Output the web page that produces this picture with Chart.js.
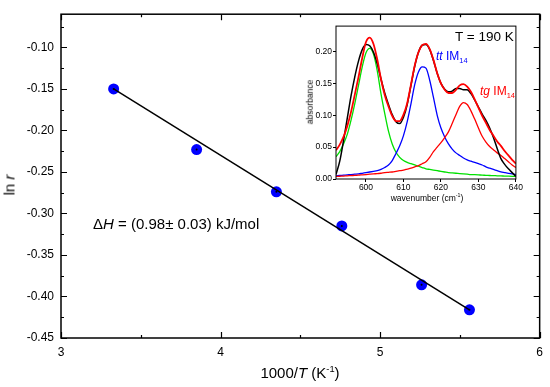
<!DOCTYPE html>
<html>
<head>
<meta charset="utf-8">
<script src="https://cdn.jsdelivr.net/npm/chart.js@4.4.1/dist/chart.umd.min.js"></script>
<style>
  body { margin: 0; background: #fff; }
  #wrap { position: relative; width: 550px; height: 387px; font-family: "Liberation Sans", Arial, sans-serif; color: #000; }
  canvas { position: absolute; }
  #inset { left: 298px; top: 20px; }
  .lbl { position: absolute; white-space: nowrap; line-height: 1; }
  .mid { transform: translate(-50%, -50%); }
  sup, sub { font-size: 62%; line-height: 0; }
</style>
</head>
<body>
<div id="wrap">
  <canvas id="main" width="550" height="387"></canvas>
  <canvas id="inset" width="226" height="188"></canvas>

  <div class="lbl mid" style="left:9px;top:185px;font-size:15px;transform:translate(-50%,-50%) rotate(-90deg)">ln <i>r</i></div>
  <div class="lbl mid" style="left:300px;top:372px;font-size:15px">1000/<i>T</i> (K<sup>-1</sup>)</div>
  <div class="lbl" style="left:93px;top:216px;font-size:15px">&Delta;<i>H</i> = (0.98&plusmn; 0.03) kJ/mol</div>

  <div class="lbl" style="left:455px;top:30px;font-size:13.5px">T = 190 K</div>
  <div class="lbl" style="left:436px;top:50px;font-size:12px;color:#0000ff"><i>tt</i> IM<sub>14</sub></div>
  <div class="lbl" style="left:480px;top:85px;font-size:12px;color:#ff0000"><i>tg</i> IM<sub>14</sub></div>
  <div class="lbl mid" style="left:310px;top:102px;font-size:8.5px;transform:translate(-50%,-50%) rotate(-90deg)">absorbance</div>
  <div class="lbl mid" style="left:427px;top:198px;font-size:8.5px">wavenumber (cm<sup>-1</sup>)</div>
</div>

<script>
// main plot: ln r vs 1000/T
const invT = [3.33, 3.85, 4.35, 4.76, 5.26, 5.56];
const lnR = [-0.150, -0.223, -0.274, -0.315, -0.386, -0.416];
const fitX = [3.33, 5.56];
const fitY = [-0.150, -0.416];
const xTicks = [3, 4, 5, 6];
const xMinor = [3.5, 4.5, 5.5];
const yTicks = [-0.45, -0.40, -0.35, -0.30, -0.25, -0.20, -0.15, -0.10];
const yMinor = [-0.425, -0.375, -0.325, -0.275, -0.225, -0.175, -0.125, -0.075];

// inset: spectrum at 190 K
const wavenumber = [592,593,594,595,596,597,598,599,600,601,602,603,604,605,606,607,608,609,610,611,612,613,614,615,616,617,618,619,620,621,622,623,624,625,626,627,628,629,630,631,632,633,634,635,636,637,638,639,640];
const absMeasured = [0.007,0.028,0.060,0.095,0.130,0.160,0.185,0.203,0.211,0.209,0.199,0.181,0.157,0.135,0.117,0.101,0.090,0.087,0.097,0.117,0.147,0.177,0.199,0.210,0.211,0.203,0.186,0.166,0.150,0.141,0.137,0.138,0.142,0.142,0.140,0.140,0.134,0.124,0.113,0.102,0.092,0.080,0.065,0.048,0.032,0.023,0.016,0.010,0.004];
const absFit = [0.045,0.054,0.066,0.083,0.105,0.132,0.160,0.190,0.215,0.222,0.212,0.188,0.157,0.132,0.114,0.099,0.091,0.091,0.101,0.119,0.148,0.178,0.199,0.210,0.212,0.204,0.187,0.166,0.150,0.140,0.135,0.135,0.140,0.147,0.149,0.145,0.137,0.125,0.112,0.099,0.088,0.077,0.068,0.059,0.052,0.044,0.037,0.030,0.024];
const absPeak601 = [0.035,0.043,0.055,0.070,0.092,0.118,0.147,0.176,0.198,0.205,0.196,0.170,0.134,0.103,0.075,0.055,0.042,0.034,0.029,0.026,0.024,0.022,0.020,0.018,0.016,0.015,0.014,0.013,0.012,0.011,0.010,0.0095,0.009,0.0085,0.008,0.0075,0.007,0.0068,0.0065,0.006,0.0058,0.0055,0.0053,0.005,0.0048,0.0046,0.0044,0.0042,0.004];
const absTt = [0.005,0.0055,0.006,0.0065,0.007,0.0075,0.008,0.009,0.010,0.011,0.012,0.013,0.015,0.018,0.022,0.029,0.040,0.052,0.068,0.090,0.118,0.148,0.168,0.176,0.174,0.155,0.128,0.100,0.080,0.066,0.055,0.047,0.041,0.037,0.033,0.030,0.028,0.026,0.024,0.022,0.019,0.017,0.015,0.013,0.011,0.010,0.009,0.008,0.007];
const absTg = [0.004,0.0043,0.0046,0.005,0.0053,0.0057,0.006,0.0065,0.007,0.0075,0.008,0.0085,0.009,0.010,0.0105,0.011,0.012,0.013,0.014,0.0155,0.017,0.019,0.021,0.024,0.027,0.034,0.043,0.050,0.057,0.065,0.074,0.087,0.101,0.114,0.120,0.117,0.107,0.094,0.080,0.067,0.058,0.051,0.046,0.041,0.037,0.032,0.027,0.022,0.018];
const insetXTicks = [600, 610, 620, 630, 640];
const insetYTicks = [0, 0.05, 0.10, 0.15, 0.20];

const FONT = "'Liberation Sans', Arial, sans-serif";
const pts = (xs, ys) => xs.map((x, i) => ({x: x, y: ys[i]}));

// box around the plot area, plus inward ticks
const frameTicks = {
  id: 'frameTicks',
  afterDraw(chart, args, opts) {
    const {ctx, chartArea: a, scales: {x, y}} = chart;
    ctx.save();
    ctx.strokeStyle = '#000';
    ctx.lineWidth = opts.width || 1.5;
    ctx.strokeRect(a.left, a.top, a.right - a.left, a.bottom - a.top);
    ctx.lineWidth = 1.2;
    ctx.beginPath();
    const xt = (v, len) => {
      const px = Math.round(x.getPixelForValue(v)) + 0.5;
      ctx.moveTo(px, a.bottom); ctx.lineTo(px, a.bottom - len);
      ctx.moveTo(px, a.top); ctx.lineTo(px, a.top + len);
    };
    const yt = (v, len) => {
      const py = Math.round(y.getPixelForValue(v)) + 0.5;
      ctx.moveTo(a.left, py); ctx.lineTo(a.left + len, py);
      ctx.moveTo(a.right, py); ctx.lineTo(a.right - len, py);
    };
    (opts.xMajor || []).forEach(v => xt(v, 6));
    (opts.xMinor || []).forEach(v => xt(v, 3));
    (opts.yMajor || []).forEach(v => yt(v, 6));
    (opts.yMinor || []).forEach(v => yt(v, 3));
    ctx.stroke();
    ctx.restore();
  }
};

new Chart(document.getElementById('main'), {
  type: 'scatter',
  data: {
    datasets: [
      {data: pts(invT, lnR), pointRadius: 5.5, pointBackgroundColor: '#0000ff', pointBorderWidth: 0, order: 2},
      {data: pts(fitX, fitY), showLine: true, borderColor: '#000', borderWidth: 1.5, pointRadius: 0, order: 0},
      {data: pts(invT, lnR), pointRadius: 1, pointBackgroundColor: '#000', pointBorderWidth: 0, order: 1}
    ]
  },
  options: {
    responsive: false,
    animation: false,
    devicePixelRatio: 1,
    layout: {padding: {top: 5, right: 10, left: 0, bottom: 0}},
    plugins: {
      legend: {display: false},
      tooltip: {enabled: false},
      frameTicks: {xMajor: xTicks, xMinor: xMinor, yMajor: yTicks, yMinor: yMinor, width: 1.5}
    },
    scales: {
      x: {
        type: 'linear', min: 3, max: 6,
        afterBuildTicks: s => { s.ticks = xTicks.map(v => ({value: v})); },
        afterFit: s => { s.height = 49; },
        grid: {display: false, drawTicks: false},
        border: {display: false},
        ticks: {padding: 7, color: '#000', font: {family: FONT, size: 12}, callback: v => String(v)}
      },
      y: {
        type: 'linear', min: -0.45, max: -0.06,
        afterBuildTicks: s => { s.ticks = yTicks.map(v => ({value: v})); },
        afterFit: s => { s.width = 61; },
        grid: {display: false, drawTicks: false},
        border: {display: false},
        ticks: {padding: 7, color: '#000', font: {family: FONT, size: 12}, callback: v => v.toFixed(2)}
      }
    }
  },
  plugins: [frameTicks]
});

const curve = (ys, color, w) => ({
  data: pts(wavenumber, ys), showLine: true, borderColor: color, borderWidth: w,
  pointRadius: 0, cubicInterpolationMode: 'monotone'
});

new Chart(document.getElementById('inset'), {
  type: 'scatter',
  data: {
    datasets: [
      curve(absFit, '#ff0000', 1.8),
      curve(absMeasured, '#000000', 1.5),
      curve(absTg, '#ff0000', 1.3),
      curve(absTt, '#0000ff', 1.3),
      curve(absPeak601, '#00e000', 1.3)
    ]
  },
  options: {
    responsive: false,
    animation: false,
    devicePixelRatio: 1,
    layout: {padding: {top: 4, right: 5, left: 0, bottom: 0}},
    plugins: {
      legend: {display: false},
      tooltip: {enabled: false},
      frameTicks: {width: 1}
    },
    scales: {
      x: {
        type: 'linear', min: 592, max: 640,
        afterBuildTicks: s => { s.ticks = insetXTicks.map(v => ({value: v})); },
        afterFit: s => { s.height = 29; },
        grid: {drawOnChartArea: false, drawTicks: true, tickLength: 3, color: '#000'},
        border: {display: false},
        ticks: {padding: 1, color: '#000', font: {family: FONT, size: 8.5}, callback: v => String(v)}
      },
      y: {
        type: 'linear', min: 0, max: 0.24,
        afterBuildTicks: s => { s.ticks = insetYTicks.map(v => ({value: v})); },
        afterFit: s => { s.width = 38; },
        grid: {drawOnChartArea: false, drawTicks: true, tickLength: 3, color: '#000'},
        border: {display: false},
        ticks: {padding: 1, color: '#000', font: {family: FONT, size: 8.5}, callback: v => v.toFixed(2)}
      }
    }
  },
  plugins: [frameTicks]
});
</script>
</body>
</html>
